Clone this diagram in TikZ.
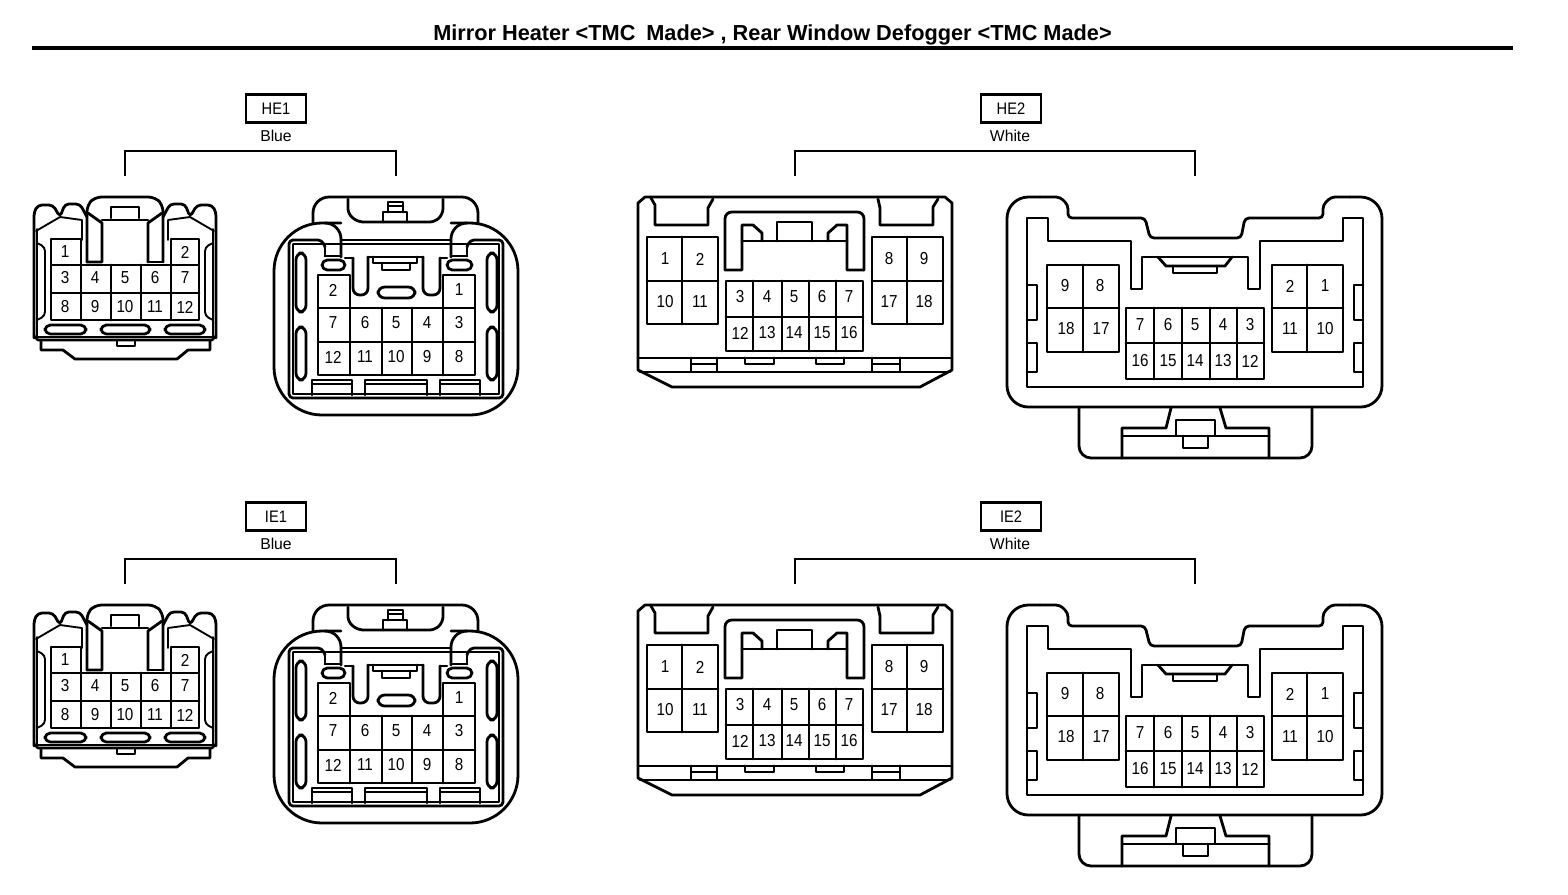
\documentclass[tikz,border=0pt]{standalone}
\usepackage{fontspec}
\setmainfont{Liberation Sans}
\newfontfamily\numfont[FakeStretch=0.88]{Liberation Sans}
\tikzset{
  ln/.style={line width=2.1pt,line join=round,line cap=round},
  thin ln/.style={line width=1.4pt,line join=round,line cap=round},
  num/.style={inner sep=0pt,font=\numfont\fontsize{13}{13}\selectfont},
  colour tag/.style={inner sep=0pt,font=\fontsize{11.8}{12}\selectfont},
  idbox/.style={draw,line width=2.1pt,minimum width=45pt,minimum height=21.5pt,inner sep=0pt,font=\numfont\fontsize{12.5}{13}\selectfont},
  bracket/.style={line width=2.1pt,line join=miter}
}
% labels: prefix, list x/y/text
\newcommand{\Nums}[2]{\foreach \px/\py/\tx in {#2}{\node[num] (#1-\tx) at (\px,\py) {\tx};}}
\newcommand{\ConnA}[1]{%
  % outer ears and handle
  \draw[ln,rounded corners=3pt] (34,338)--(34,212)--(38,205)--(53,205)--(60,217)--(65,204)--(80,204)--(87,217);
  \draw[ln,rounded corners=3pt] (216,338)--(216,212)--(212,205)--(197,205)--(190,217)--(185,204)--(170,204)--(163,217);
  \draw[ln,rounded corners=5pt] (87,262)--(87,205)--(95,197)--(155,197)--(163,205)--(163,262);
  \draw[ln] (87,262)--(102,262)--(102,223)--(88,213);
  \draw[ln] (148,262)--(163,262);
  \draw[ln] (148,262)--(148,223)--(162,213);
  \draw[ln] (102,220)--(148,220);
  \draw[ln] (111,218)--(111,207)--(139,207)--(139,218);
  \draw[thin ln] (36,231)--(60,217)--(82,220)--(82,240);
  \draw[thin ln] (214,231)--(190,217)--(168,220)--(168,240);
  \draw[thin ln] (37,229)--(37,337)--(213,337)--(213,229);
  \draw[thin ln,rounded corners=3pt] (37,243)--(45,247)--(45,316)--(37,320);
  \draw[thin ln,rounded corners=3pt] (213,243)--(205,247)--(205,316)--(213,320);
  % lower lip
  \draw[ln] (34,336)--(38,340)--(212,340)--(216,336);
  \draw[ln] (41,340)--(41,350)--(63,350)--(75,359)--(177,359)--(188,350)--(210,350)--(210,340);
  \draw[ln] (117,340)--(117,346)--(135,346)--(135,340);
  % slots
  \draw[ln,rounded corners=4pt] (45,325) rectangle (86,334);
  \draw[ln,rounded corners=4pt] (101,325) rectangle (150,334);
  \draw[ln,rounded corners=4pt] (165,325) rectangle (205,334);
  % cavities
  \draw[ln] (51,265)--(51,239)--(81,239)--(81,265);
  \draw[ln] (171,265)--(171,239)--(199,239)--(199,265);
  \draw[ln] (51,265) rectangle (199,320);
  \draw[ln] (51,293)--(199,293);
  \foreach \gx in {81,111,141,171}{\draw[ln] (\gx,265)--(\gx,320);}
  \Nums{#1}{65/252/1,185/252/2,65/278/3,95/278/4,125/278/5,155/278/6,185/278/7,65/307/8,95/307/9,125/307/10,155/307/11,185/307/12}
}
\newcommand{\ConnB}[1]{%
  % hood
  \draw[ln,rounded corners=12pt] (313,223)--(313,197)--(478,197)--(478,223);
  \draw[ln,rounded corners=4pt] (348,199)--(348,214)--(358,222)--(435,222)--(443,214)--(443,199);
  \draw[ln] (383,222)--(383,212)--(407,212)--(407,222);
  \draw[ln] (388,212)--(388,202)--(403,202)--(403,212);
  \draw[thin ln] (388,206)--(403,206);
  % body with hooks
  \draw[ln,rounded corners=36pt] (341,223)--(274,223)--(274,415)--(518,415)--(518,223)--(451,223);
  \draw[ln,rounded corners=12pt] (325,223)--(341,223)--(341,257);
  \draw[ln,rounded corners=12pt] (467,223)--(451,223)--(451,257);
  \draw[ln] (325,256)--(341,256);
  \draw[ln] (451,256)--(467,256);
  \draw[ln] (325,256)--(325,247);
  \draw[ln] (467,256)--(467,247);
  \draw[ln,rounded corners=3pt] (325,247)--(322,240)--(289,240)--(289,398)--(503,398)--(503,240)--(470,240)--(467,247);
  \draw[thin ln] (293,244)--(293,394)--(499,394)--(499,244)--(293,244);
  \draw[ln] (341,240)--(451,240);
  % centre keys
  \draw[ln] (345,258)--(353,258);
  \draw[ln,rounded corners=5pt] (353,258)--(353,295)--(368,295)--(368,257);
  \draw[ln] (368,257)--(423,257);
  \draw[ln,rounded corners=5pt] (423,257)--(423,295)--(440,295)--(440,258);
  \draw[ln] (440,258)--(447,258);
  \draw[ln] (373,257)--(373,263)--(417,263)--(417,257);
  \draw[ln] (382,263)--(382,270)--(410,270)--(410,263);
  \draw[ln,rounded corners=5pt] (378,287) rectangle (415,298);
  \draw[ln,rounded corners=4pt] (322,260) rectangle (345,270);
  \draw[ln,rounded corners=4pt] (447,260) rectangle (472,270);
  % side slots
  \draw[ln,rounded corners=5pt] (296,253) rectangle (306,312);
  \draw[ln,rounded corners=5pt] (296,327) rectangle (306,380);
  \draw[ln,rounded corners=5pt] (487,253) rectangle (497,312);
  \draw[ln,rounded corners=5pt] (487,327) rectangle (497,380);
  % bottom tabs
  \draw[ln] (312,395)--(312,380)--(352,380)--(352,395);
  \draw[thin ln] (312,384)--(352,384);
  \draw[ln] (365,395)--(365,380)--(427,380)--(427,395);
  \draw[thin ln] (365,384)--(427,384);
  \draw[ln] (440,395)--(440,380)--(480,380)--(480,395);
  \draw[thin ln] (440,384)--(480,384);
  % cavities
  \draw[ln] (318,308)--(318,275)--(350,275)--(350,308);
  \draw[ln] (443,308)--(443,275)--(475,275)--(475,308);
  \draw[ln] (318,308) rectangle (475,375);
  \draw[ln] (318,342)--(475,342);
  \foreach \gx in {350,382,412,443}{\draw[ln] (\gx,308)--(\gx,375);}
  \Nums{#1}{333/290/2,459/290/1,333/323/7,365/323/6,396/323/5,427/323/4,459/323/3,333/357/12,365/357/11,396/357/10,427/357/9,459/357/8}
}
\newcommand{\ConnC}[1]{%
  \draw[ln] (638,203)--(645,197)--(945,197)--(952,203)--(952,370)--(920,387)--(672,387)--(638,370)--cycle;
  \draw[ln] (638,358)--(952,358);
  \draw[ln] (640,372)--(950,372);
  \draw[ln] (651,198)--(655,205)--(655,225)--(708,225)--(708,208)--(713,199);
  \draw[ln] (878,199)--(880,208)--(880,225)--(933,225)--(933,207)--(938,199);
  % handle
  \draw[ln,rounded corners=5pt] (725,270)--(725,212)--(864,212)--(864,270);
  \draw[ln] (725,270)--(742,270)--(742,225)--(753,225)--(762,233)--(762,241);
  \draw[ln] (864,270)--(847,270)--(847,225)--(837,225)--(828,233)--(828,241);
  \draw[ln] (742,241)--(847,241);
  \draw[ln] (777,241)--(777,222)--(812,222)--(812,241);
  % tabs
  \draw[ln] (691,358)--(691,371);\draw[ln] (717,358)--(717,371);\draw[thin ln] (691,364)--(717,364);
  \draw[ln] (745,358)--(745,364)--(774,364)--(774,358);
  \draw[ln] (816,358)--(816,364)--(844,364)--(844,358);
  \draw[ln] (872,358)--(872,371);\draw[ln] (900,358)--(900,371);\draw[thin ln] (872,364)--(900,364);
  % cavities
  \draw[ln] (647,237) rectangle (718,324);
  \draw[ln] (682,237)--(682,324);\draw[ln] (647,281)--(718,281);
  \draw[ln] (872,237) rectangle (943,324);
  \draw[ln] (907,237)--(907,324);\draw[ln] (872,281)--(943,281);
  \draw[ln] (726,281) rectangle (863,351);
  \draw[ln] (726,317)--(863,317);
  \foreach \gx in {753,782,809,836}{\draw[ln] (\gx,281)--(\gx,351);}
  \Nums{#1}{665/259/1,700/259/2,665/302/10,700/302/11,889/259/8,924/259/9,889/302/17,924/302/18,740/297/3,767/297/4,794/297/5,822/297/6,849/297/7,740/333/12,767/333/13,794/333/14,822/333/15,849/333/16}
}
\newcommand{\ConnD}[1]{%
  \draw[ln,rounded corners=3pt] (1040,197)--(1060,197)--(1068,205)--(1068,218)--(1145,218)--(1150,238)--(1241,238)--(1245,218)--(1323,218)--(1323,205)--(1331,197)--(1350,197);
  \draw[ln,rounded corners=16pt] (1040,197)--(1007,197)--(1007,407)--(1382,407)--(1382,197)--(1350,197);
  \draw[ln] (1027,218)--(1048,218)--(1048,241)--(1131,241)--(1131,289)--(1142,289)--(1142,257)--(1248,257)--(1248,289)--(1260,289)--(1260,241)--(1343,241)--(1343,218)--(1363,218)--(1363,387)--(1027,387)--cycle;
  \draw[ln] (1158,257)--(1166,266)--(1225,266)--(1232,257);
  \draw[ln] (1173,266)--(1173,273)--(1217,273)--(1217,266);
  \draw[ln] (1027,285)--(1037,285)--(1037,320)--(1027,320);
  \draw[ln] (1027,343)--(1037,343)--(1037,372)--(1027,372);
  \draw[ln] (1363,285)--(1354,285)--(1354,320)--(1363,320);
  \draw[ln] (1363,343)--(1354,343)--(1354,372)--(1363,372);
  \draw[ln,rounded corners=9pt] (1079,407)--(1079,458)--(1312,458)--(1312,407);
  \draw[ln] (1171,408)--(1166,428)--(1122,428)--(1122,458);
  \draw[ln] (1220,408)--(1226,428)--(1269,428)--(1269,458);
  \draw[ln] (1122,436)--(1269,436);
  \draw[ln,fill=white] (1176,420) rectangle (1215,436);
  \draw[ln] (1183,436)--(1183,448)--(1208,448)--(1208,436);
  % cavities
  \draw[ln] (1047,265) rectangle (1119,352);
  \draw[ln] (1083,265)--(1083,352);\draw[ln] (1047,308)--(1119,308);
  \draw[ln] (1272,265) rectangle (1343,352);
  \draw[ln] (1307,265)--(1307,352);\draw[ln] (1272,308)--(1343,308);
  \draw[ln] (1126,308) rectangle (1264,379);
  \draw[ln] (1126,343)--(1264,343);
  \foreach \gx in {1154,1182,1210,1237}{\draw[ln] (\gx,308)--(\gx,379);}
  \Nums{#1}{1065/286/9,1100/286/8,1066/329/18,1101/329/17,1290/286/2,1325/286/1,1290/329/11,1325/329/10,1140/325/7,1168/325/6,1195/325/5,1223/325/4,1250/325/3,1140/361/16,1168/361/15,1195/361/14,1223/361/13,1250/361/12}
}
\newcommand{\Row}[3]{% prefix, left id, right id
  \node[idbox] (#2) at (276,108.5) {#2};
  \node[colour tag] (#2c) at (276,136) {Blue};
  \node[idbox] (#3) at (1011,108.5) {#3};
  \node[colour tag] (#3c) at (1010,136) {White};
  \coordinate (#2a) at (125,176);\coordinate (#2b) at (396,176);
  \coordinate (#3a) at (795,176);\coordinate (#3b) at (1195,176);
  \draw[bracket] (#2a)--(125,151)--(396,151)--(#2b);
  \draw[bracket] (#3a)--(795,151)--(1195,151)--(#3b);
  \ConnA{#1a}\ConnB{#1b}\ConnC{#1c}\ConnD{#1d}
}
\begin{document}
\begin{tikzpicture}[x=0.75pt,y=-0.75pt]
\useasboundingbox (0,0) rectangle (1568,894);
\fill[white] (0,0) rectangle (1568,894);
\node[inner sep=0pt,anchor=base,font=\fontsize{16.3}{17}\selectfont\bfseries] (title) at (772.5,40) {Mirror Heater <TMC\hspace{0.5em}Made> , Rear Window Defogger <TMC Made>};
\coordinate (ruleL) at (32,48);\coordinate (ruleR) at (1513,48);
\draw[line width=3.4pt] (ruleL)--(ruleR);
\Row{u}{HE1}{HE2}
\begin{scope}[shift={(0,408)}]
\Row{v}{IE1}{IE2}
\end{scope}
\end{tikzpicture}
\end{document}
